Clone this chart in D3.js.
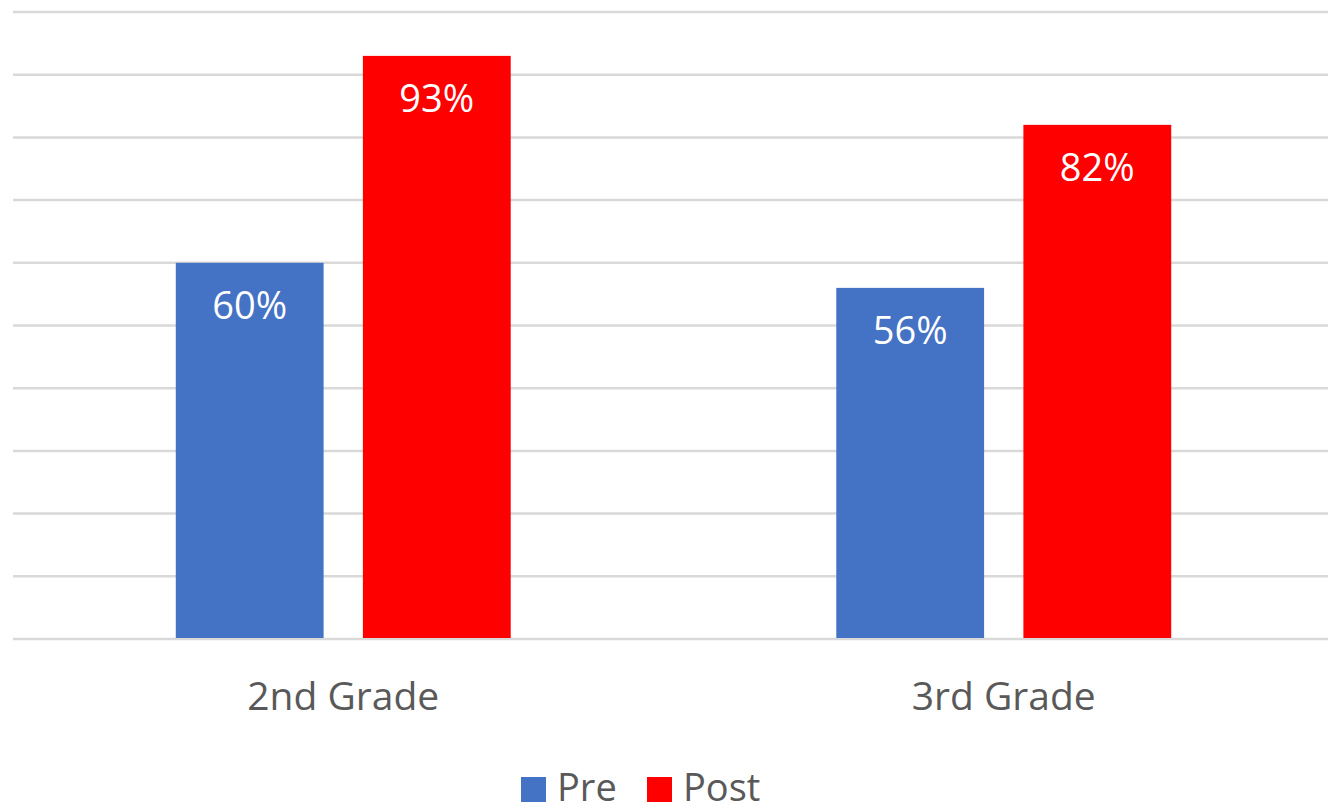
<!DOCTYPE html>
<html>
<head>
<meta charset="utf-8">
<script src="https://cdn.jsdelivr.net/npm/d3@7"></script>
<style>
  body { margin: 0; background: #fff; }
  text { font-family: "Segoe UI", "Open Sans", sans-serif; }
</style>
</head>
<body>
<div id="chart"></div>
<script>
var categories = ["2nd Grade", "3rd Grade"];
var seriesNames = ["Pre", "Post"];
var preValues = [0.60, 0.56];
var postValues = [0.93, 0.82];
var gridTicks = [0, 0.1, 0.2, 0.3, 0.4, 0.5, 0.6, 0.7, 0.8, 0.9, 1.0];
var colors = { Pre: "#4472C4", Post: "#FF0000" };

var W = 1328, H = 804;
var svg = d3.select("#chart").append("svg")
    .attr("width", W)
    .attr("height", H);

var y = d3.scaleLinear().domain([0, 1]).range([639, 12]);
var x0 = d3.scaleBand().domain(categories).range([13, 1334]);
var x1 = d3.scaleBand().domain(seriesNames).range([0, x0.bandwidth()])
    .paddingInner(0.21).paddingOuter(0.87);

// gridlines
svg.append("g").selectAll("line")
    .data(gridTicks)
    .enter().append("line")
    .attr("x1", 13).attr("x2", W)
    .attr("y1", function (d) { return y(d); })
    .attr("y2", function (d) { return y(d); })
    .attr("stroke", "#d9d9d9")
    .attr("stroke-width", 2.5);

var rows = categories.map(function (c, i) {
    return { cat: c, vals: [
        { name: "Pre", value: preValues[i] },
        { name: "Post", value: postValues[i] }
    ]};
});

var groups = svg.selectAll("g.cat")
    .data(rows)
    .enter().append("g")
    .attr("class", "cat")
    .attr("transform", function (d) { return "translate(" + x0(d.cat) + ",0)"; });

groups.selectAll("rect")
    .data(function (d) { return d.vals; })
    .enter().append("rect")
    .attr("x", function (d) { return x1(d.name); })
    .attr("width", x1.bandwidth())
    .attr("y", function (d) { return y(d.value); })
    .attr("height", function (d) { return y(0) - y(d.value) - 1; })
    .attr("fill", function (d) { return colors[d.name]; });

groups.selectAll("text.val")
    .data(function (d) { return d.vals; })
    .enter().append("text")
    .attr("class", "val")
    .attr("x", function (d) { return x1(d.name) + x1.bandwidth() / 2; })
    .attr("y", function (d) { return y(d.value) + 56; })
    .attr("text-anchor", "middle")
    .attr("fill", "#fff")
    .attr("font-size", 38)
    .text(function (d) { return Math.round(d.value * 100) + "%"; });

// category axis labels
svg.append("g").selectAll("text")
    .data(categories)
    .enter().append("text")
    .attr("x", function (d) { return x0(d) + x0.bandwidth() / 2; })
    .attr("y", 710)
    .attr("text-anchor", "middle")
    .attr("fill", "#595959")
    .attr("font-size", 39)
    .text(function (d) { return d; });

// legend (cut by the bottom edge, as in the source image)
var legendX = [521, 647];
var legend = svg.append("g").selectAll("g")
    .data(seriesNames)
    .enter().append("g")
    .attr("transform", function (d, i) { return "translate(" + legendX[i] + ",777)"; });
legend.append("rect")
    .attr("width", 25).attr("height", 25)
    .attr("fill", function (d) { return colors[d]; });
legend.append("text")
    .attr("x", 36).attr("y", 24)
    .attr("fill", "#595959")
    .attr("font-size", 38)
    .text(function (d) { return d; });
</script>
</body>
</html>
